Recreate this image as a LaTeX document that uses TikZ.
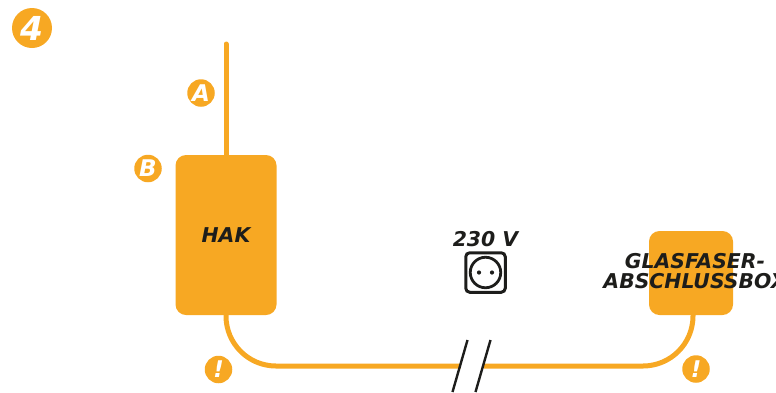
\documentclass[tikz,border=0pt]{standalone}
\usepackage{fontspec}
\setmainfont{DejaVu Sans}
\usetikzlibrary{positioning}
\definecolor{Amber}{HTML}{F7A823}
\definecolor{Ink}{HTML}{1D1D1B}
\tikzset{
  unitbox/.style={fill=Amber,rounded corners=10.5,inner sep=0,outer sep=0},
  badge/.style={circle,fill=Amber,text=white,inner sep=0,outer sep=0,font=\bfseries\itshape},
  cable/.style={Amber,line width=5},
  breakmark/.style={Ink,line width=2.4},
  caption/.style={text=Ink,font=\fontsize{20.4}{19.5}\selectfont\bfseries\itshape,align=center,inner sep=0}
}
\begin{document}
\begin{tikzpicture}[x=1pt,y=-1pt]
        \useasboundingbox (0,0) rectangle (776,392);
        \node[unitbox,minimum width=101,minimum height=160] (hak) at (226,235) {};
        \node[unitbox,minimum width=84,minimum height=84] (gfbox) at (691,273) {};
        \coordinate (top) at (226,44);
        \coordinate (breakL) at (460.5,366);
        \coordinate (breakR) at (483.5,366);
        \coordinate (slashAa) at (467.5,340);
        \coordinate (slashAb) at (452.5,392);
        \coordinate (slashBa) at (490.5,340);
        \coordinate (slashBb) at (475.5,392);
        % cables
        \draw[cable,line cap=round] (top)--(hak.north);
        \draw[cable,rounded corners=50] (hak.south)|-(breakL);
        \draw[cable,rounded corners=50] (gfbox.south-|693,0)|-(breakR);
        \draw[breakmark] (slashAa)--(slashAb);
        \draw[breakmark] (slashBa)--(slashBb);
        % socket
        \node[draw=Ink,line width=3,rounded corners=4,minimum size=39.5,inner sep=0] (socket) at (485.5,272.5) {};
        \node[draw=Ink,line width=2.8,circle,minimum size=30.5,inner sep=0] (socketface) at (socket.center) {};
        \fill[Ink] (479,272.5) circle (2.1);
        \fill[Ink] (492,272.5) circle (2.1);
        % labels
        \node[caption] (hakname) at (hak.center) {HAK};
        \node[caption] (gfname) at (695,271) {GLASFASER-\\ABSCHLUSSBOX};
        \node[caption] (volt) at (485.5,239.5) {230 V};
        % badges
        \node[badge,minimum size=40,font=\fontsize{33}{33}\selectfont\bfseries\itshape] (four) at (32,28) {4};
        \node[badge,minimum size=27.5,font=\fontsize{23}{23}\selectfont\bfseries\itshape] (bA) at (201,93) {A};
        \node[badge,minimum size=27.5,font=\fontsize{23}{23}\selectfont\bfseries\itshape] (bB) at (148,168.5) {B};
        \node[badge,minimum size=27.5,font=\fontsize{23}{23}\selectfont\bfseries\itshape] (warnL) at (218.5,369.5) {!};
        \node[badge,minimum size=27.5,font=\fontsize{23}{23}\selectfont\bfseries\itshape] (warnR) at (696,369) {!};
      \end{tikzpicture}
\end{document}
